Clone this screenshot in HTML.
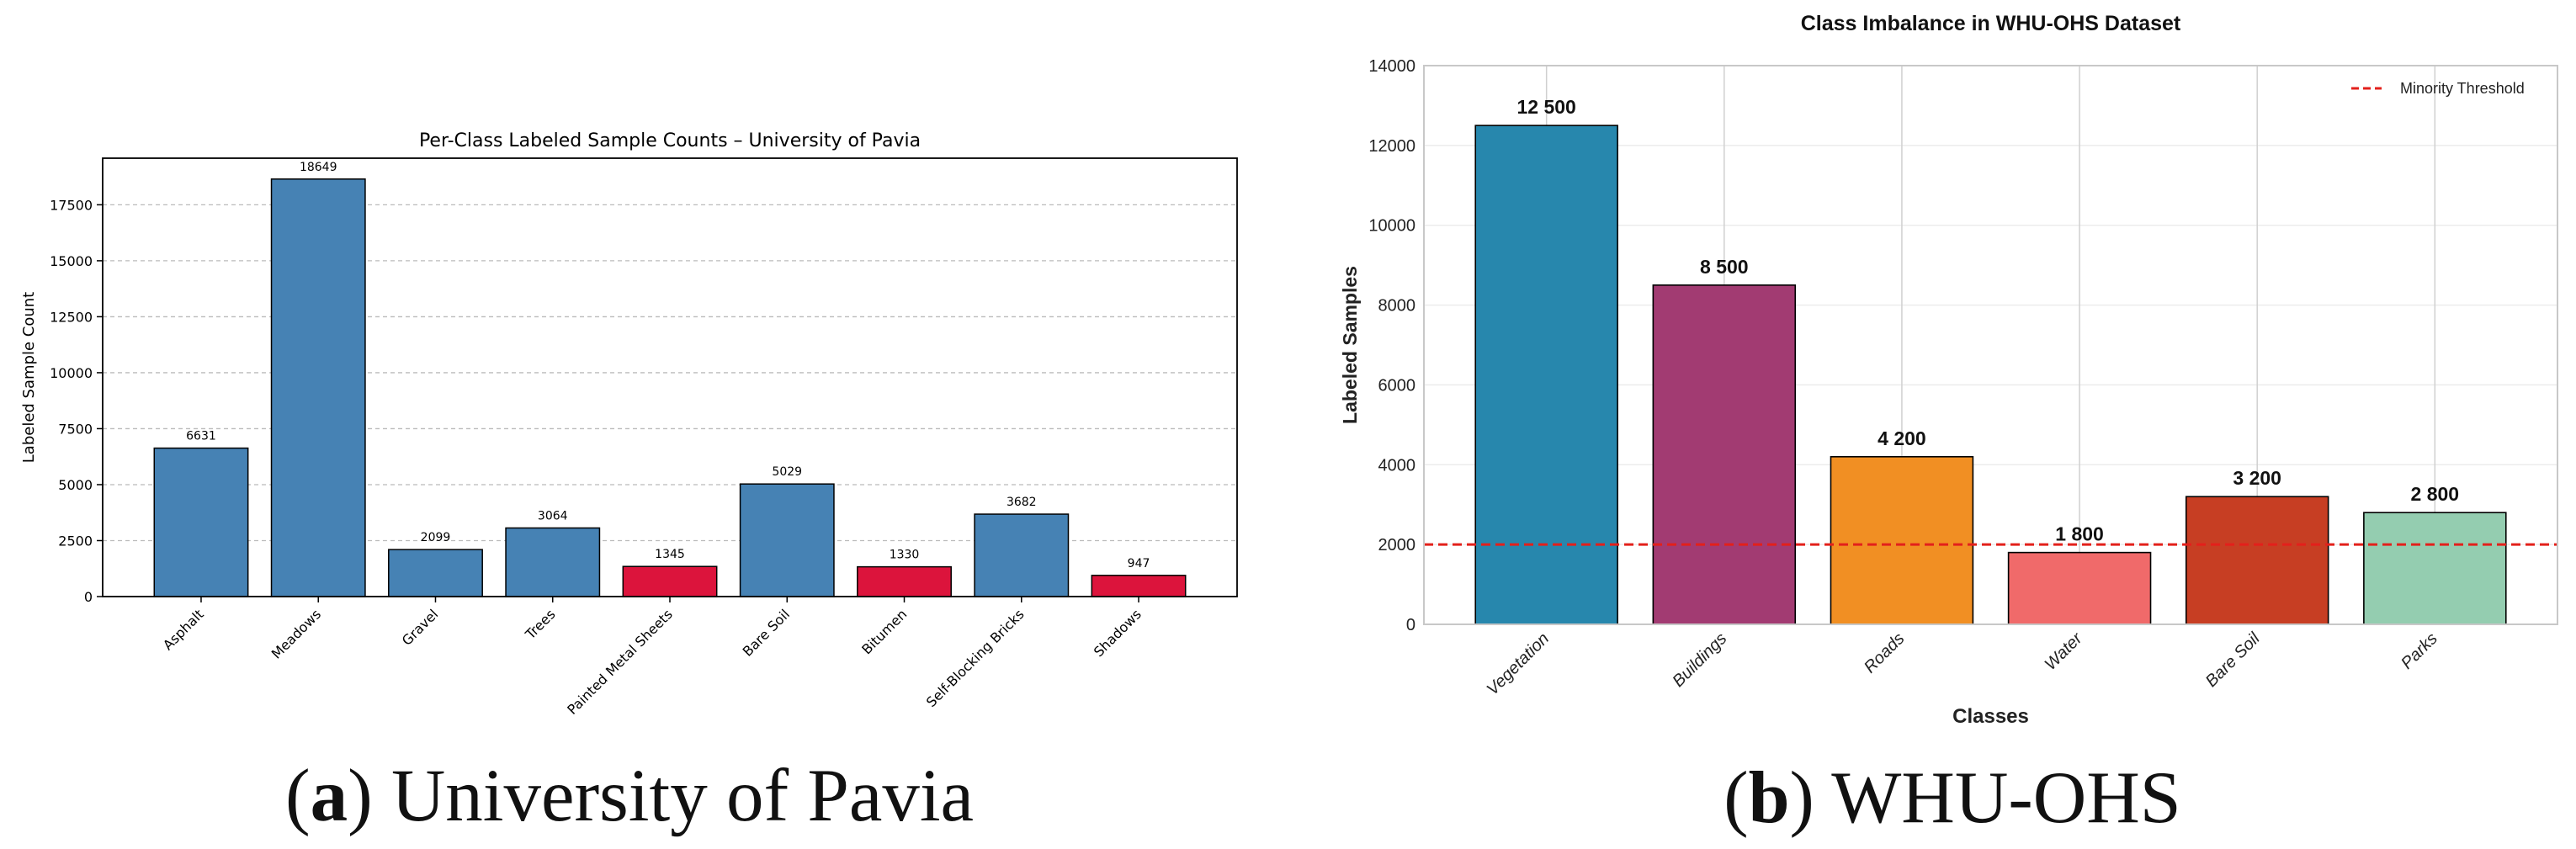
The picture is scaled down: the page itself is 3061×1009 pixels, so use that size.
<!DOCTYPE html>
<html><head><meta charset="utf-8"><style>
html,body{margin:0;padding:0;background:#fff;width:3061px;height:1009px;overflow:hidden}
svg{display:block}
</style></head><body>
<svg id="fig" width="3061" height="1009" viewBox="0 0 3061 1009" xmlns="http://www.w3.org/2000/svg">
<g id="left"></g>
<g id="right"></g>
<text x="748" y="975" text-anchor="middle" font-family="Liberation Serif, serif" font-size="89" fill="#111">(<tspan font-weight="bold">a</tspan>) University of Pavia</text>
<text x="2320" y="977" text-anchor="middle" font-family="Liberation Serif, serif" font-size="88" fill="#111">(<tspan font-weight="bold">b</tspan>) WHU-OHS</text>
</svg>
<script>
const paviaCategories = ["Asphalt","Meadows","Gravel","Trees","Painted Metal Sheets","Bare Soil","Bitumen","Self-Blocking Bricks","Shadows"];
const paviaCounts = [6631,18649,2099,3064,1345,5029,1330,3682,947];
const paviaMinority = [false,false,false,false,true,false,true,false,true];
const paviaTicks = [0,2500,5000,7500,10000,12500,15000,17500];

const whuCategories = ["Vegetation","Buildings","Roads","Water","Bare Soil","Parks"];
const whuCounts = [12500,8500,4200,1800,3200,2800];
const whuLabels = ["12 500","8 500","4 200","1 800","3 200","2 800"];
const whuColors = ["#2787ad","#a23b72","#f18f23","#f06a6a","#c73e23","#94cdb0"];
const whuTicks = [0,2000,4000,6000,8000,10000,12000,14000];
const whuThreshold = [2000];

const NS="http://www.w3.org/2000/svg";
function mk(parent,tag,attrs,text){const e=document.createElementNS(NS,tag);for(const k in attrs)e.setAttribute(k,attrs[k]);if(text!==undefined)e.textContent=text;parent.appendChild(e);return e;}

(function(){
const g=document.getElementById('left');
const L=122,R=1470,T=188,B=709;
const n=paviaCategories.length;
const ymax=Math.max(...paviaCounts)*1.05;
const x0=-0.4-0.05*(n-1+0.8), x1=n-1+0.4+0.05*(n-1+0.8);
const X=v=>L+(v-x0)/(x1-x0)*(R-L);
const Y=v=>B-v/ymax*(B-T);
const F="DejaVu Sans, sans-serif";
paviaTicks.forEach(t=>{
  if(t>0){const gl=mk(g,'line',{x1:L,x2:R,y1:Y(t),y2:Y(t),stroke:'#bbb','stroke-width':1.3,'stroke-dasharray':'5,4'});
  }
  const tk=mk(g,'line',{x1:L-7,x2:L,y1:Y(t),y2:Y(t),stroke:'#000','stroke-width':1.5});
  
  const tl=mk(g,'text',{x:L-12,y:Y(t)+6,'text-anchor':'end','font-family':F,'font-size':16},String(t));
  
});
const bw=0.8*(X(1)-X(0));
paviaCounts.forEach((v,i)=>{
  const cx=X(i);
  const r=mk(g,'rect',{x:cx-bw/2,y:Y(v),width:bw,height:B-Y(v),fill:paviaMinority[i]?'#dc143c':'#4682b4',stroke:'#000','stroke-width':1.5});
  
  const vl=mk(g,'text',{x:cx,y:Y(v)-10,'text-anchor':'middle','font-family':F,'font-size':14},String(v));
  
  const tk=mk(g,'line',{x1:cx,x2:cx,y1:B,y2:B+7,stroke:'#000','stroke-width':1.5});
  
  const xl=mk(g,'text',{transform:`translate(${cx+4},${B+22}) rotate(-45)`,'text-anchor':'end','font-family':F,'font-size':16},paviaCategories[i]);
  
});
const fr=mk(g,'rect',{x:L,y:T,width:R-L,height:B-T,fill:'none',stroke:'#000','stroke-width':1.8});

const ti=mk(g,'text',{x:(L+R)/2,y:T-14,'text-anchor':'middle','font-family':F,'font-size':22},'Per-Class Labeled Sample Counts – University of Pavia');

const yl=mk(g,'text',{transform:`translate(40,${(T+B)/2}) rotate(-90)`,'text-anchor':'middle','font-family':F,'font-size':18},'Labeled Sample Count');

})();

(function(){
const g=document.getElementById('right');
const L=1692,R=3039,T=78,B=742;
const n=whuCategories.length;
const ymax=14000;
const x0=-0.4-0.05*(n-1+0.8), x1=n-1+0.4+0.05*(n-1+0.8);
const X=v=>L+(v-x0)/(x1-x0)*(R-L);
const Y=v=>B-v/ymax*(B-T);
const F="Liberation Sans, Arial, sans-serif";
whuTicks.forEach(t=>{
  const gl=mk(g,'line',{x1:L,x2:R,y1:Y(t),y2:Y(t),stroke:'#ececec','stroke-width':1.5});
  
  const tl=mk(g,'text',{x:L-10,y:Y(t)+7,'text-anchor':'end','font-family':F,'font-size':20,fill:'#222'},String(t));
  
});
whuCategories.forEach((c,i)=>{
  const vg=mk(g,'line',{x1:X(i),x2:X(i),y1:T,y2:B,stroke:'#d0d0d0','stroke-width':1.5});
  
});
const bw=0.8*(X(1)-X(0));
whuCounts.forEach((v,i)=>{
  const cx=X(i);
  const r=mk(g,'rect',{x:cx-bw/2,y:Y(v),width:bw,height:B-Y(v),fill:whuColors[i],stroke:'#000','stroke-width':1.6});
  
  const vl=mk(g,'text',{x:cx,y:Y(v)-14,'text-anchor':'middle','font-family':F,'font-size':23,'font-weight':'bold',fill:'#111'},whuLabels[i]);
  
  const xl=mk(g,'text',{transform:`translate(${cx+4},${B+18}) rotate(-45)`,'text-anchor':'end','font-family':F,'font-size':20,'font-style':'italic',fill:'#222'},whuCategories[i]);
  
});
whuThreshold.forEach(t=>{
  const th=mk(g,'line',{x1:L,x2:R,y1:Y(t),y2:Y(t),stroke:'#e3201b','stroke-width':3,'stroke-dasharray':'11,6'});
  
});
const fr=mk(g,'rect',{x:L,y:T,width:R-L,height:B-T,fill:'none',stroke:'#c8c8c8','stroke-width':2});

const ll=mk(g,'line',{x1:2794,x2:2830,y1:105,y2:105,stroke:'#e3201b','stroke-width':3,'stroke-dasharray':'9,5'});

const lt=mk(g,'text',{x:2852,y:111,'font-family':F,'font-size':18,fill:'#222'},'Minority Threshold');

const ti=mk(g,'text',{x:(L+R)/2,y:36,'text-anchor':'middle','font-family':F,'font-size':25,'font-weight':'bold',fill:'#111'},'Class Imbalance in WHU-OHS Dataset');

const yl=mk(g,'text',{transform:`translate(1612,${(T+B)/2}) rotate(-90)`,'text-anchor':'middle','font-family':F,'font-size':23,'font-weight':'bold',fill:'#222'},'Labeled Samples');

const xt=mk(g,'text',{x:(L+R)/2,y:859,'text-anchor':'middle','font-family':F,'font-size':24,'font-weight':'bold',fill:'#222'},'Classes');

})();
</script>
</body></html>
